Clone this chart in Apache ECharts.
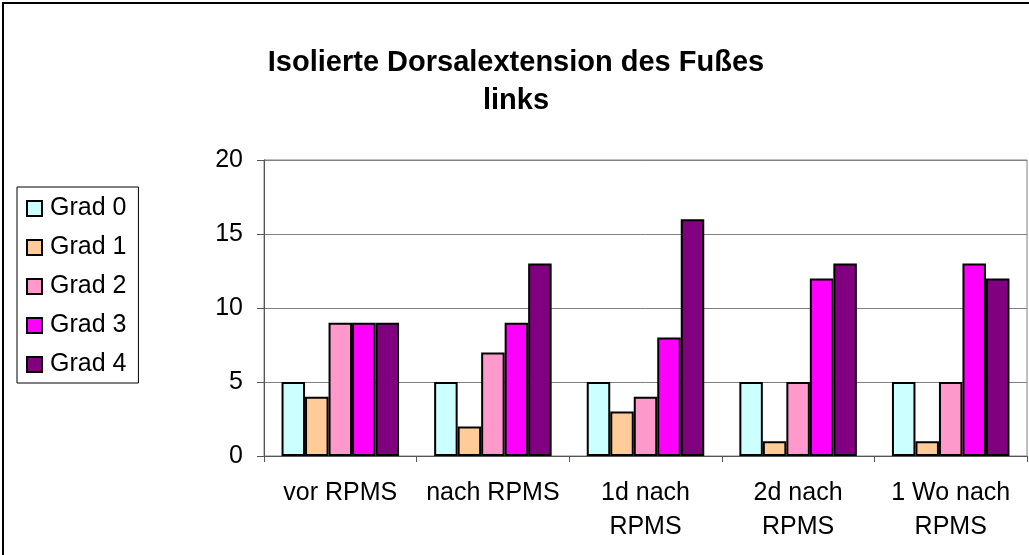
<!DOCTYPE html>
<html><head><meta charset="utf-8">
<script src="https://cdn.jsdelivr.net/npm/echarts@6/dist/echarts.min.js"></script>
<style>html,body{margin:0;padding:0;background:#fff}#c{width:1029px;height:555px}</style>
</head><body><div id="c"></div>
<script>
const categories = ["vor RPMS", "nach RPMS", "1d nach\nRPMS", "2d nach\nRPMS", "1 Wo nach\nRPMS"];
const seriesNames = ["Grad 0", "Grad 1", "Grad 2", "Grad 3", "Grad 4"];
const grad0 = [5, 5, 5, 5, 5];
const grad1 = [4, 2, 3, 1, 1];
const grad2 = [9, 7, 4, 5, 5];
const grad3 = [9, 9, 8, 12, 13];
const grad4 = [9, 13, 16, 13, 12];
const colors = ["#CCFFFF", "#FFCC99", "#FF99CC", "#FF00FF", "#800080"];
const values = [grad0, grad1, grad2, grad3, grad4];

const font = "Liberation Sans, Arial, sans-serif";
const chart = echarts.init(document.getElementById('c'), null, {renderer: 'canvas'});
chart.setOption({
  animation: false,
  backgroundColor: '#fff',
  title: {
    text: 'Isolierte Dorsalextension des Fußes\nlinks',
    left: 511, top: 39, textAlign: 'center',
    textStyle: {fontFamily: font, fontSize: 29, fontWeight: 'bold', color: '#000', lineHeight: 38}
  },
  legend: {
    orient: 'vertical', left: 17, top: 187,
    padding: [9, 12, 6, 9],
    borderColor: '#000', borderWidth: 1,
    itemWidth: 15, itemHeight: 15, itemGap: 14,
    icon: 'rect',
    itemStyle: {borderColor: '#000', borderWidth: 2},
    textStyle: {fontFamily: font, fontSize: 25, color: '#000', lineHeight: 25, padding: [0,0,0,3]},
    data: seriesNames
  },
  grid: {left: 264, right: 2, top: 160, bottom: 99, show: true, borderColor: '#808080', borderWidth: 1, backgroundColor: 'transparent'},
  xAxis: {
    type: 'category', data: categories, boundaryGap: true,
    axisLine: {lineStyle: {color: '#555', width: 1}},
    axisTick: {show: true, inside: false, length: 6, alignWithLabel: false, lineStyle: {color: '#555'}},
    axisLabel: {fontFamily: font, fontSize: 25, color: '#000', lineHeight: 34, margin: 20, interval: 0}
  },
  yAxis: {
    type: 'value', min: 0, max: 20, interval: 5,
    axisLine: {show: true, lineStyle: {color: '#555', width: 1}},
    axisTick: {show: true, length: 7, lineStyle: {color: '#555'}},
    splitLine: {lineStyle: {color: '#808080', width: 1}},
    axisLabel: {fontFamily: font, fontSize: 25, color: '#000', margin: 21}
  },
  series: seriesNames.map((n, i) => ({
    name: n, type: 'bar', data: values[i],
    barGap: '0%', barCategoryGap: '23%',
    itemStyle: {color: colors[i], borderColor: '#000', borderWidth: 2}
  })),
  graphic: [{
    type: 'rect', shape: {x: 3, y: 3, width: 1040, height: 570},
    style: {fill: 'none', stroke: '#000', lineWidth: 2}, silent: true, z: 100
  }]
});
</script></body></html>
